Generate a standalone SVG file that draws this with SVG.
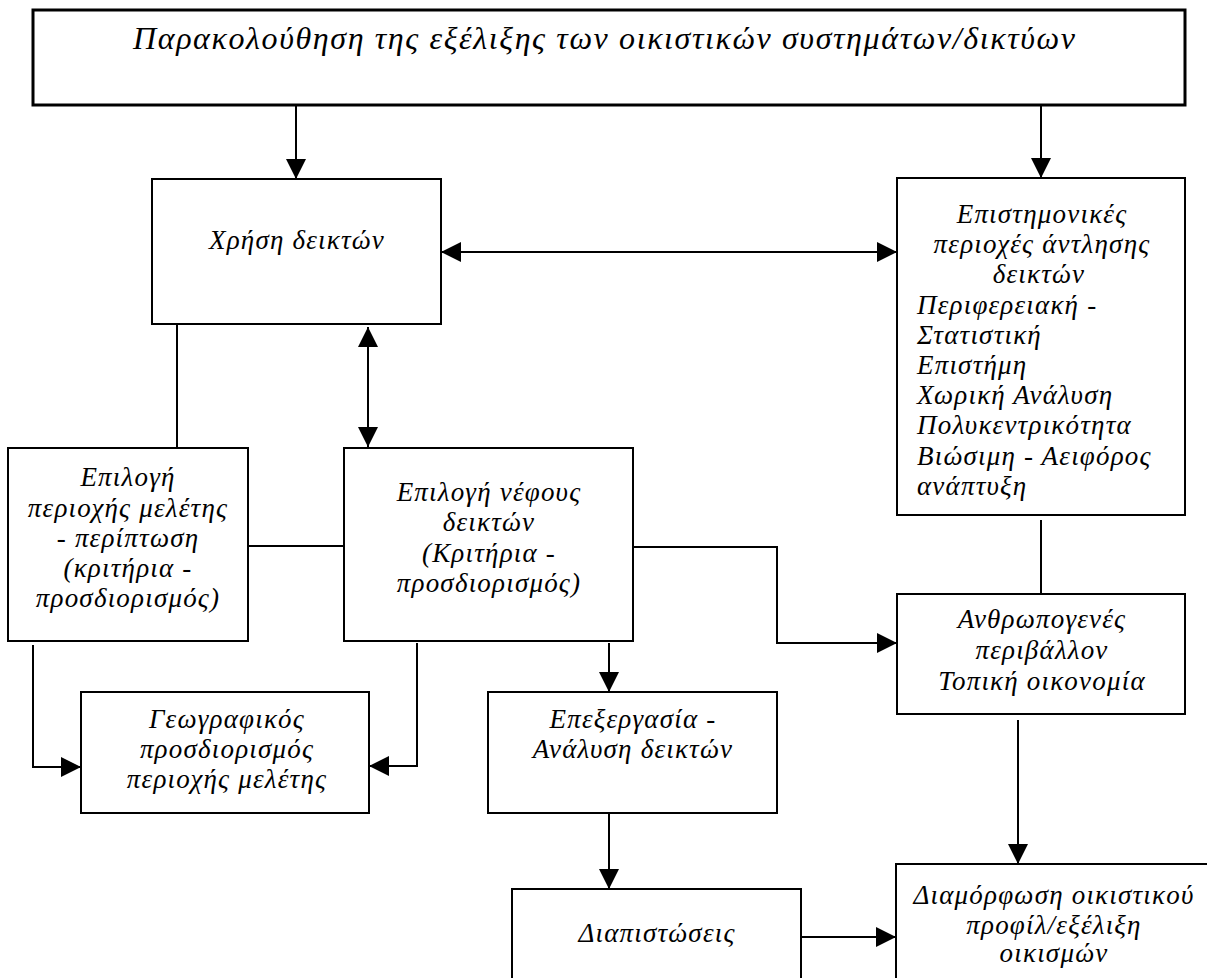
<svg xmlns="http://www.w3.org/2000/svg" width="1207" height="978" viewBox="0 0 1207 978">
<style>
.box{fill:#fff;stroke:#000;stroke-width:2}
.top{stroke-width:3}
.t{font-family:"Liberation Serif","Times New Roman",serif;font-style:italic;font-size:27px;letter-spacing:1.2px;fill:#000}
.c{text-anchor:middle}
.tt{font-size:32px;letter-spacing:0}
.ln{fill:none;stroke:#000;stroke-width:2}
</style>
<defs>
<marker id="ah" markerUnits="userSpaceOnUse" markerWidth="20" markerHeight="20" refX="20" refY="10" orient="auto-start-reverse" viewBox="0 0 20 20">
<path d="M0,0 L20,10 L0,20 z" fill="#000"/>
</marker>
</defs>
<rect width="1207" height="978" fill="#fff"/>
<g id="connectors">
<line class="ln" x1="296" y1="105" x2="296" y2="179" marker-end="url(#ah)"/>
<line class="ln" x1="1041" y1="105" x2="1041" y2="178" marker-end="url(#ah)"/>
<line class="ln" x1="441" y1="252" x2="897" y2="252" marker-start="url(#ah)" marker-end="url(#ah)"/>
<line class="ln" x1="368" y1="327" x2="368" y2="447" marker-start="url(#ah)" marker-end="url(#ah)"/>
<line class="ln" x1="177" y1="325" x2="177" y2="448"/>
<line class="ln" x1="248" y1="546" x2="344" y2="546"/>
<polyline class="ln" points="33,645 33,767 81,767" marker-end="url(#ah)"/>
<polyline class="ln" points="417,643 417,766 369,766" marker-end="url(#ah)"/>
<polyline class="ln" points="633,547 777,547 777,643 897,643" marker-end="url(#ah)"/>
<line class="ln" x1="609" y1="643" x2="609" y2="692" marker-end="url(#ah)"/>
<line class="ln" x1="1041" y1="520" x2="1041" y2="594"/>
<line class="ln" x1="609" y1="813" x2="609" y2="889" marker-end="url(#ah)"/>
<line class="ln" x1="1018" y1="720" x2="1018" y2="864" marker-end="url(#ah)"/>
<line class="ln" x1="801" y1="937" x2="896" y2="937" marker-end="url(#ah)"/>
</g>
<g id="n-top">
<rect class="box top" x="33" y="10" width="1152" height="95"/>
<text class="t tt" x="133" y="49" textLength="942" lengthAdjust="spacing">Παρακολούθηση της εξέλιξης των οικιστικών συστημάτων/δικτύων</text>
</g>
<g id="n-xrisi">
<rect class="box" x="152" y="179" width="289" height="145"/>
<text class="t c" x="297" y="249">Χρήση δεικτών</text>
</g>
<g id="n-epistimonikes">
<rect class="box" x="897" y="178" width="288" height="337"/>
<text class="t c" x="1042" y="223">Επιστημονικές</text>
<text class="t c" x="1042" y="253">περιοχές άντλησης</text>
<text class="t c" x="1039" y="283">δεικτών</text>
<text class="t" x="917" y="314">Περιφερειακή -</text>
<text class="t" x="917" y="344">Στατιστική</text>
<text class="t" x="917" y="374">Επιστήμη</text>
<text class="t" x="917" y="404">Χωρική Ανάλυση</text>
<text class="t" x="917" y="434">Πολυκεντρικότητα</text>
<text class="t" x="917" y="465">Βιώσιμη - Αειφόρος</text>
<text class="t" x="917" y="495">ανάπτυξη</text>
</g>
<g id="n-perioxi">
<rect class="box" x="8" y="448" width="240" height="193"/>
<text class="t c" x="128" y="486">Επιλογή</text>
<text class="t c" x="128" y="517">περιοχής μελέτης</text>
<text class="t c" x="128" y="547">- περίπτωση</text>
<text class="t c" x="128" y="577">(κριτήρια -</text>
<text class="t c" x="128" y="607">προσδιορισμός)</text>
</g>
<g id="n-nefos">
<rect class="box" x="344" y="448" width="289" height="193"/>
<text class="t c" x="489" y="501">Επιλογή νέφους</text>
<text class="t c" x="489" y="531">δεικτών</text>
<text class="t c" x="489" y="562">(Κριτήρια -</text>
<text class="t c" x="489" y="592">προσδιορισμός)</text>
</g>
<g id="n-geografikos">
<rect class="box" x="81" y="692" width="288" height="121"/>
<text class="t c" x="227" y="728">Γεωγραφικός</text>
<text class="t c" x="227" y="758">προσδιορισμός</text>
<text class="t c" x="227" y="788">περιοχής μελέτης</text>
</g>
<g id="n-epexergasia">
<rect class="box" x="488" y="692" width="289" height="121"/>
<text class="t c" x="633" y="728">Επεξεργασία -</text>
<text class="t c" x="633" y="758">Ανάλυση δεικτών</text>
</g>
<g id="n-anthropogenes">
<rect class="box" x="897" y="594" width="288" height="120"/>
<text class="t c" x="1042" y="628">Ανθρωπογενές</text>
<text class="t c" x="1042" y="659">περιβάλλον</text>
<text class="t c" x="1042" y="690">Τοπική οικονομία</text>
</g>
<g id="n-diapistoseis">
<rect class="box" x="512" y="889" width="289" height="100"/>
<text class="t c" x="657" y="942">Διαπιστώσεις</text>
</g>
<g id="n-diamorfosi">
<rect class="box" x="896" y="864" width="320" height="125"/>
<text class="t c" x="1054" y="904">Διαμόρφωση οικιστικού</text>
<text class="t c" x="1054" y="934">προφίλ/εξέλιξη</text>
<text class="t c" x="1054" y="962">οικισμών</text>
</g>
</svg>
